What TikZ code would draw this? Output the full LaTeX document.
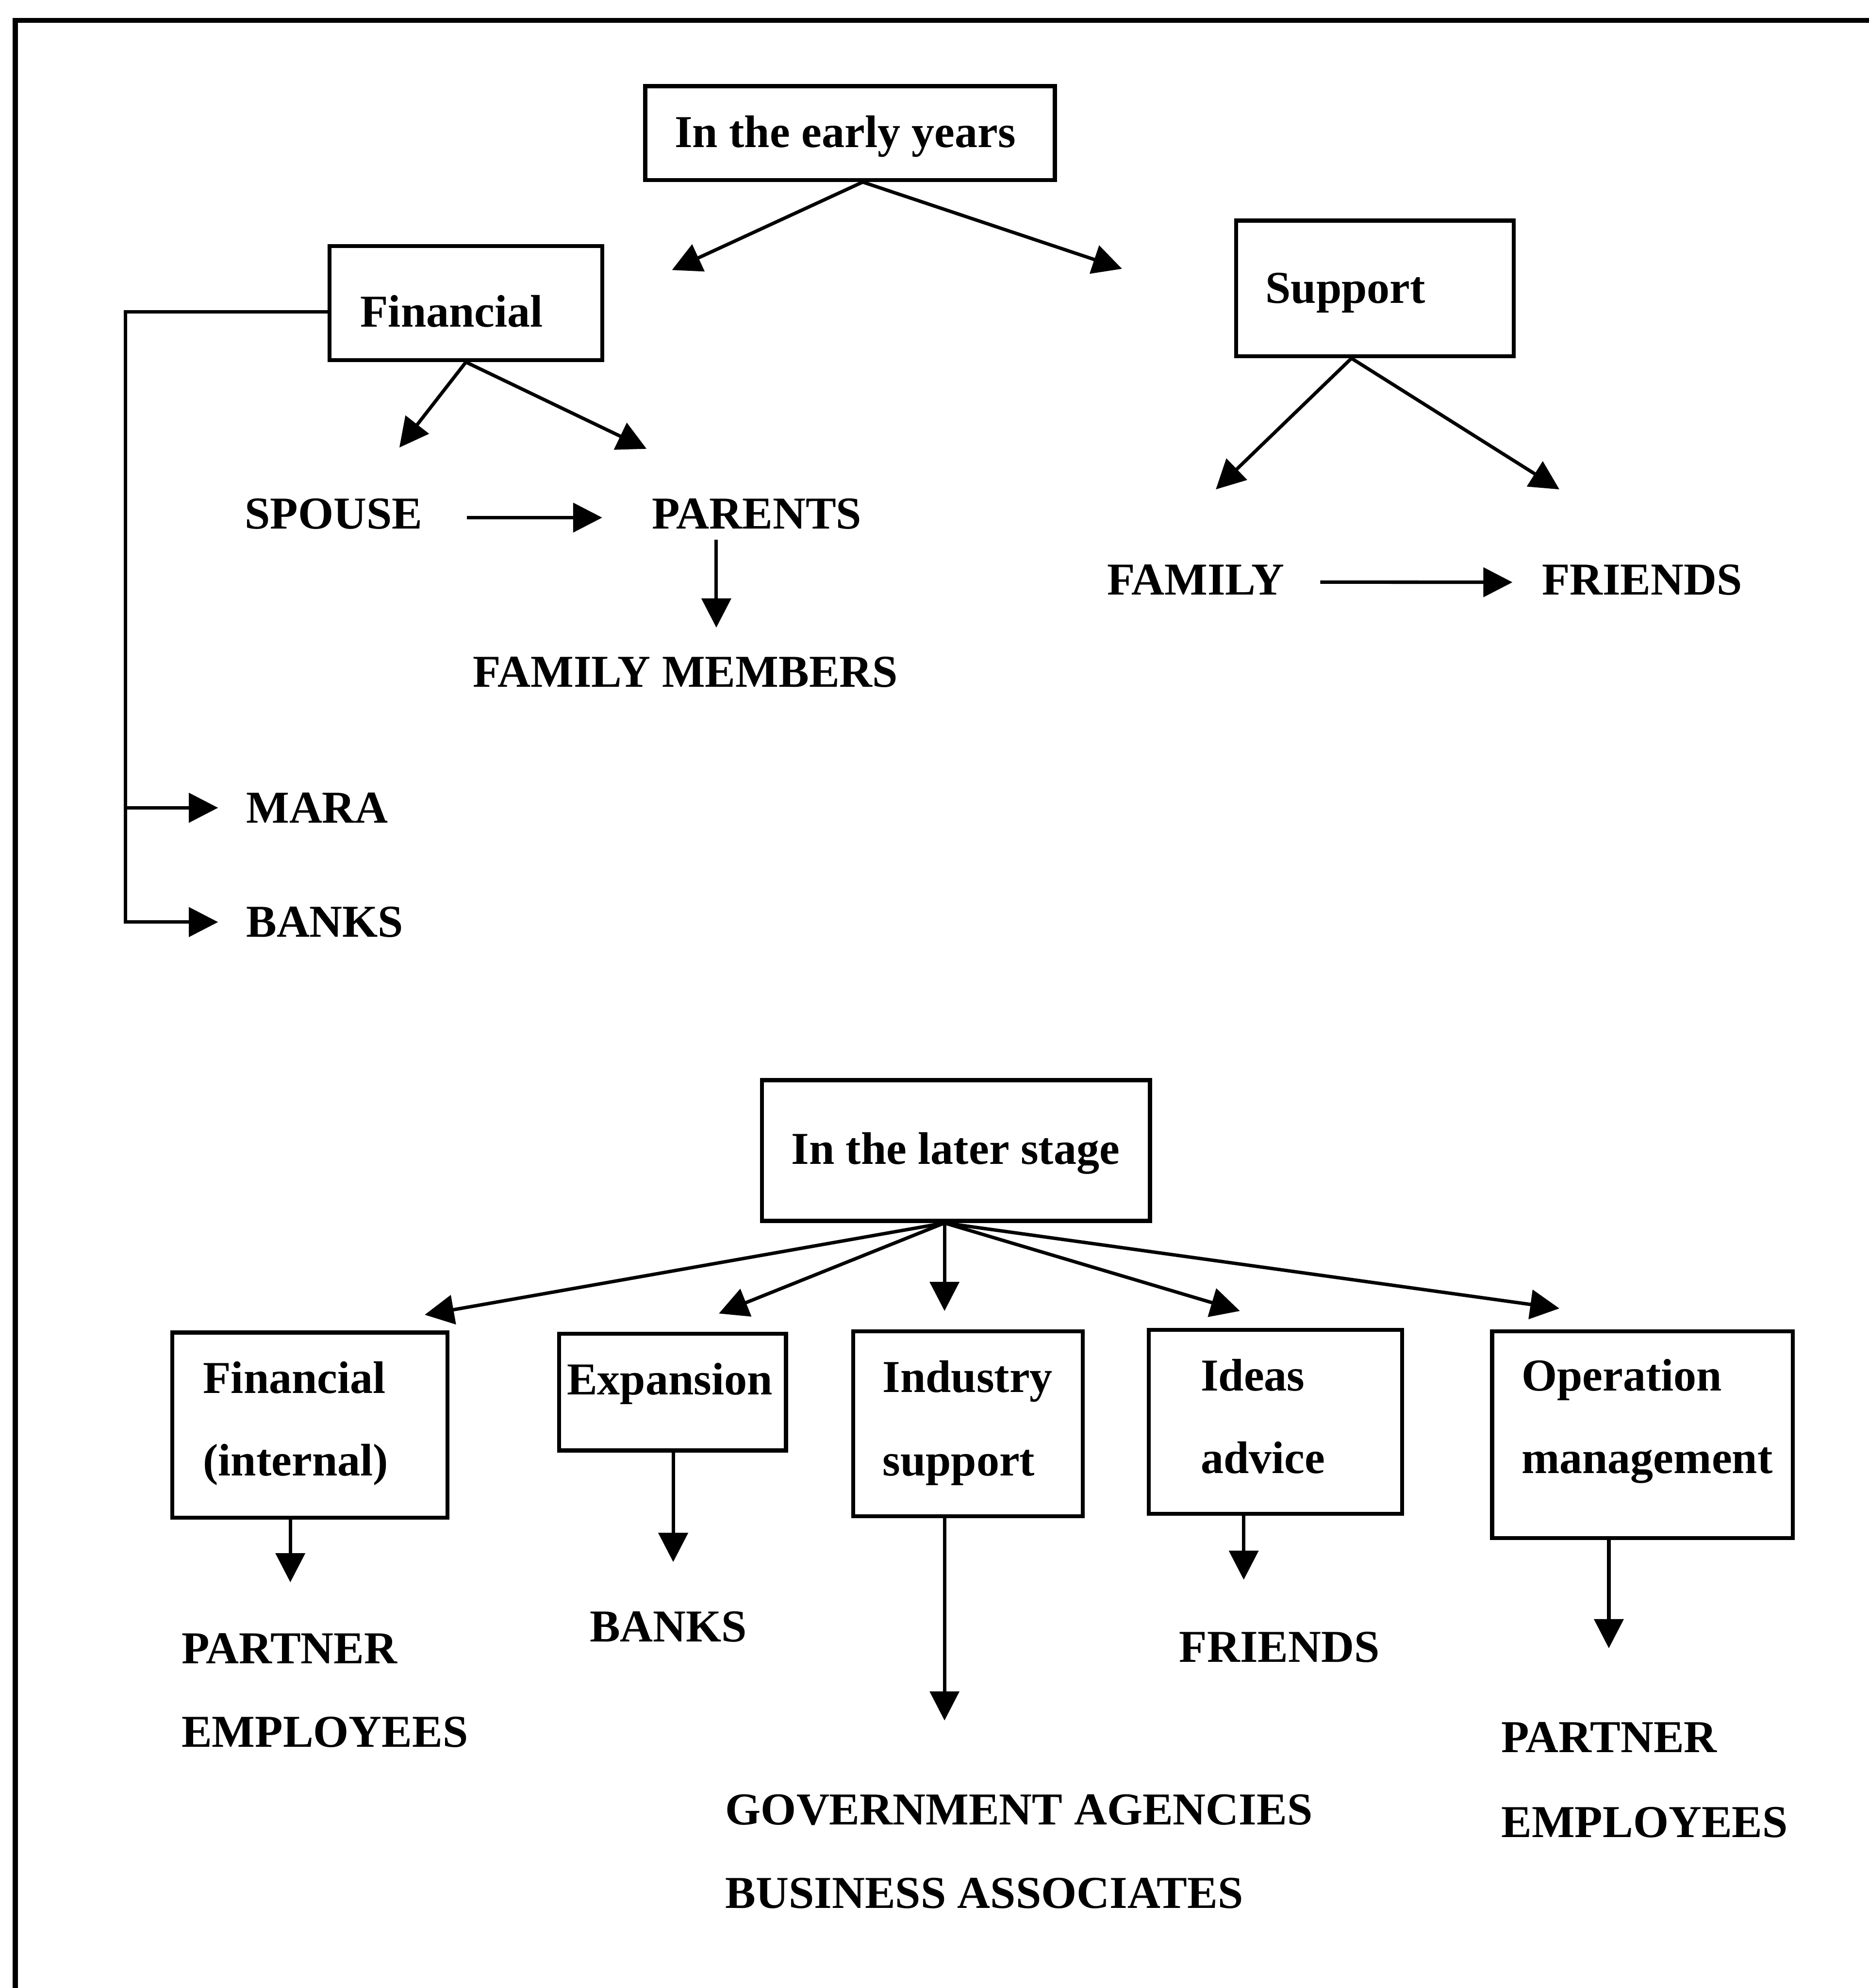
\documentclass[tikz,border=0pt]{standalone}
\usepackage{fontspec}
\setmainfont{Liberation Serif}
\usetikzlibrary{arrows.meta}
\begin{document}
\begin{tikzpicture}[x=1pt,y=-1pt,
  lbl/.style={anchor=base west, inner sep=0pt, font=\bfseries\fontsize{36}{43}\selectfont},
  boxnode/.style 2 args={draw, line width=3.2pt, inner sep=0pt, minimum width=#1pt, minimum height=#2pt},
  arr/.style={line width=2.7pt, -{Triangle[length=23pt,width=23pt]}},
  frame/.style={line width=4pt, line join=miter}]
\useasboundingbox (0,0) rectangle (1474,1568);

% page frame (top and left edges)
\draw[frame] (12,1572) -- (12,16) -- (1478,16);

% ---------- early years ----------
\node[boxnode={323}{74}] (early) at (670.5,105) {};
\node[lbl] (tEarly) at (532,116) {In the early years};

\node[boxnode={215}{90}] (fin) at (367.5,239) {};
\node[lbl] (tFin) at (284,258) {Financial};

\node[boxnode={219}{107}] (sup) at (1084.5,227.5) {};
\node[lbl] (tSup) at (998,239) {Support};

\node[lbl] (spouse) at (193,417) {SPOUSE};
\node[lbl] (parents) at (514,417) {PARENTS};
\node[lbl] (fammem) at (373,542) {FAMILY MEMBERS};
\node[lbl] (mara) at (194,649) {MARA};
\node[lbl] (banks) at (194,739) {BANKS};
\node[lbl] (family) at (873,469) {FAMILY};
\node[lbl] (friends) at (1216,469) {FRIENDS};

\coordinate (eL) at (530,213);
\coordinate (eR) at (885,212);
\coordinate (fS) at (315,353);
\coordinate (fP) at (510,354);
\coordinate (sF) at (959,386);
\coordinate (sR) at (1230,386);
\coordinate (pmEnd) at (565,495);

\draw[arr] ([xshift=10pt]early.south) -- (eL);
\draw[arr] ([xshift=10pt]early.south) -- (eR);
\draw[arr] (fin.south) -- (fS);
\draw[arr] (fin.south) -- (fP);
\draw[arr] ([xshift=-18.5pt]sup.south) -- (sF);
\draw[arr] ([xshift=-18.5pt]sup.south) -- (sR);
\draw[arr] ([xshift=35pt,yshift=-3pt]spouse.east) -- ([xshift=-39pt,yshift=-3pt]parents.west);
\draw[arr, shorten <=8pt] (pmEnd |- parents.south) -- (pmEnd);
\draw[arr] ([xshift=28pt,yshift=-2pt]family.east) -- ([xshift=-23pt,yshift=-2pt]friends.west);
\draw[arr] ([yshift=-7pt]fin.west) -| ([xshift=-95pt]banks.west) -- ([xshift=-22pt]banks.west);
\draw[arr] ([xshift=-95pt]mara.west) -- ([xshift=-22pt]mara.west);

% ---------- later stage ----------
\node[boxnode={306}{111}] (later) at (754,907.5) {};
\node[lbl] (tLater) at (624,918) {In the later stage};

\node[boxnode={217}{146}] (finint) at (244.5,1124) {};
\node[lbl] (tFinA) at (160,1099) {Financial};
\node[lbl] (tFinB) at (160,1164) {(internal)};

\node[boxnode={179}{92}] (exp) at (530.5,1098) {};
\node[lbl] (tExp) at (447,1100) {Expansion};

\node[boxnode={181}{146}] (ind) at (763.5,1123) {};
\node[lbl] (tIndA) at (696,1098) {Industry};
\node[lbl] (tIndB) at (696,1164) {support};

\node[boxnode={200}{145}] (ideas) at (1006,1121.5) {};
\node[lbl] (tIdeA) at (947,1097) {Ideas};
\node[lbl] (tIdeB) at (947,1162) {advice};

\node[boxnode={237}{163}] (oper) at (1295.5,1131.5) {};
\node[lbl] (tOpA) at (1200,1097) {Operation};
\node[lbl] (tOpB) at (1200,1162) {management};

\node[lbl] (partnerA) at (143,1312) {PARTNER};
\node[lbl] (employeesA) at (143,1378) {EMPLOYEES};
\node[lbl] (banksB) at (465,1295) {BANKS};
\node[lbl] (gov) at (572,1439) {GOVERNMENT AGENCIES};
\node[lbl] (bus) at (572,1505) {BUSINESS ASSOCIATES};
\node[lbl] (friendsB) at (930,1311) {FRIENDS};
\node[lbl] (partnerB) at (1184,1382) {PARTNER};
\node[lbl] (employeesB) at (1184,1449) {EMPLOYEES};

\coordinate (l1) at (335,1037);
\coordinate (l2) at (567,1036);
\coordinate (l3) at (745,1034);
\coordinate (l4) at (978,1034);
\coordinate (l5) at (1230,1032);
\foreach \t in {l1,l2,l3,l4,l5}
  \draw[arr] ([xshift=-9pt]later.south) -- (\t);

\coordinate (dFin) at (229,1248);
\coordinate (dExp) at (531,1232);
\coordinate (dInd) at (745,1357);
\coordinate (dIde) at (981,1246);
\coordinate (dOp) at (1269,1300);
\draw[arr] (dFin |- finint.south) -- (dFin);
\draw[arr] (dExp |- exp.south) -- (dExp);
\draw[arr] (dInd |- ind.south) -- (dInd);
\draw[arr] (dIde |- ideas.south) -- (dIde);
\draw[arr] (dOp |- oper.south) -- (dOp);
\end{tikzpicture}
\end{document}
